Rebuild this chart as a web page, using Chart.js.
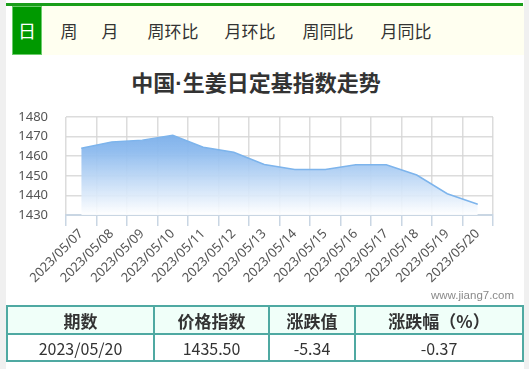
<!DOCTYPE html>
<html>
<head>
<meta charset="utf-8">
<script src="https://cdn.jsdelivr.net/npm/chart.js@4.4.0/dist/chart.umd.min.js"></script>
<style>
  html, body { margin:0; padding:0; }
  body { width:529px; height:369px; background:#f0f0f0; position:relative; overflow:hidden;
         font-family:"Noto Sans CJK SC","Noto Sans",sans-serif; }
  #panel { position:absolute; left:6px; top:0; width:518px; height:369px; background:#fff; }
  #greenbar { position:absolute; left:6px; top:3px; width:517px; height:3px; background:#1a9e1a; }
  #tabbar { position:absolute; left:12px; top:6px; width:512px; height:49px; background:#fffff0; }
  #tabon { position:absolute; left:12px; top:6px; width:28px; height:47px; background:#009900;
           border:1px solid #6ccc6c; color:#fff; font-size:18px; line-height:47px; text-align:center; }
  .tab { position:absolute; top:6px; height:50px; line-height:50px; width:80px; text-align:center;
         font-size:17px; color:#333; }
  #title { position:absolute; left:56px; width:400px; top:66px; height:30px; line-height:30px;
           text-align:center; font-size:22px; font-weight:bold; color:#333; }
  #title .dot { font-family:"Liberation Sans",Arial,sans-serif; }
  #wrap { position:absolute; left:0; top:55px; width:524px; height:245px; }
  #wm { position:absolute; left:431px; top:289px; font-family:"Liberation Sans",Arial,sans-serif;
        font-size:11.5px; color:#8a8a8a; }
  table { position:absolute; left:6px; top:305px; border-collapse:collapse; width:516px; table-layout:fixed; }
  td, th { border:2px solid #4fa9a2; text-align:center; color:#333; padding:0; }
  th { background:#f0fff9; font-size:17px; font-weight:bold; height:26px; }
  td { font-size:16px; height:25px; }
</style>
</head>
<body>
<div id="panel"></div>
<div id="greenbar"></div>
<div id="tabbar"></div>
<div id="tabon">日</div>
<div class="tab" style="left:29px">周</div>
<div class="tab" style="left:70px">月</div>
<div class="tab" style="left:133px">周环比</div>
<div class="tab" style="left:210px">月环比</div>
<div class="tab" style="left:288px">周同比</div>
<div class="tab" style="left:366px">月同比</div>
<div id="title">中国<span class="dot">·</span>生姜日定基指数走势</div>
<div id="wrap"><canvas id="c"></canvas></div>
<div id="wm">www.jiang7.com</div>
<table>
  <colgroup><col style="width:147px"><col style="width:115px"><col style="width:86px"><col style="width:168px"></colgroup>
  <tr><th>期数</th><th>价格指数</th><th>涨跌值</th><th>涨跌幅（%）</th></tr>
  <tr><td>2023/05/20</td><td>1435.50</td><td>-5.34</td><td>-0.37</td></tr>
</table>
<script>
const categories = ['2023/05/07','2023/05/08','2023/05/09','2023/05/10','2023/05/11','2023/05/12','2023/05/13',
                    '2023/05/14','2023/05/15','2023/05/16','2023/05/17','2023/05/18','2023/05/19','2023/05/20'];
const indexValues = [1464.1, 1467.3, 1468.2, 1470.7, 1464.6, 1462.0, 1455.8,
                     1453.2, 1453.2, 1455.6, 1455.6, 1450.4, 1440.84, 1435.50];
const yTicks = [1430, 1440, 1450, 1460, 1470, 1480];

const canvas = document.getElementById('c');
canvas.width = 524; canvas.height = 245;
new Chart(canvas, {
  type: 'line',
  data: {
    labels: categories,
    datasets: [{
      data: indexValues,
      borderColor: '#7db4ec',
      borderWidth: 1.5,
      pointRadius: 0,
      tension: 0,
      fill: 'start',
      backgroundColor: (ctx) => {
        const ca = ctx.chart.chartArea;
        if (!ca) return 'rgba(120,172,232,0.6)';
        const g = ctx.chart.ctx.createLinearGradient(0, ca.top, 0, ca.bottom);
        g.addColorStop(0, 'rgba(110,166,230,1)');
        g.addColorStop(0.35, 'rgba(140,186,238,0.95)');
        g.addColorStop(1, 'rgba(255,255,255,0.9)');
        return g;
      }
    }]
  },
  options: {
    responsive: false,
    animation: false,
    devicePixelRatio: 1,
    layout: { padding: { top: 62, right: 31, left: 0, bottom: 0 } },
    plugins: { legend: { display: false }, tooltip: { enabled: false }, title: { display: false } },
    scales: {
      x: {
        type: 'category',
        offset: true,
        z: 1,
        grid: { offset: true, color: 'rgba(214,214,214,0.85)', lineWidth: 1.5, tickLength: 11, tickColor: '#c9d6e3' },
        border: { color: '#c9d6e3', width: 2 },
        ticks: { maxRotation: 45, minRotation: 45, autoSkip: false, color: '#555',
                 font: { family: '"Noto Sans", sans-serif', size: 13 }, padding: 0 },
        afterFit: (s) => { s.height = 85; }
      },
      y: {
        min: 1430, max: 1480,
        z: 1,
        afterBuildTicks: (s) => { s.ticks = yTicks.map(v => ({ value: v })); },
        grid: { color: 'rgba(214,214,214,0.85)', lineWidth: 1.5, drawTicks: false },
        border: { display: false },
        ticks: { color: '#555', padding: 18, font: { family: '"Noto Sans", sans-serif', size: 13 },
                 callback: (v) => String(v) },
        afterFit: (s) => { s.width = 66; }
      }
    }
  }
});
</script>
</body>
</html>
